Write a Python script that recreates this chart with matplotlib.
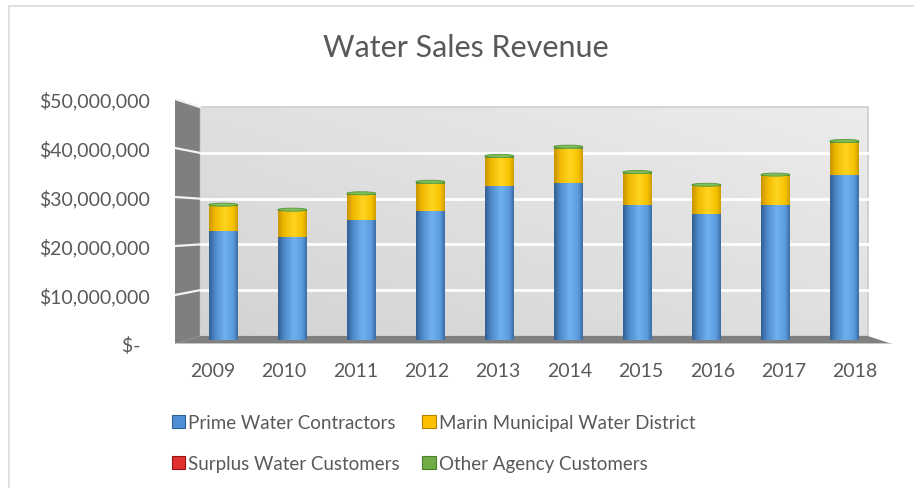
import numpy as np
import matplotlib
matplotlib.use('Agg')
from matplotlib import pyplot as plt
from matplotlib.colors import LinearSegmentedColormap
from matplotlib.patches import Polygon, Rectangle, Ellipse

plt.rcParams['font.family'] = ['Lato', 'DejaVu Sans']

years = ['2009', '2010', '2011', '2012', '2013', '2014', '2015', '2016', '2017', '2018']
# revenue in dollars
prime = [23.0e6, 21.7e6, 25.4e6, 27.3e6, 32.6e6, 33.2e6, 28.4e6, 26.6e6, 28.4e6, 34.9e6]
marin = [5.2e6, 5.5e6, 5.2e6, 5.7e6, 5.9e6, 7.2e6, 6.7e6, 5.8e6, 6.2e6, 6.7e6]
surplus = [0, 0, 0, 0, 0, 0, 0, 0, 0, 0]
other = [0.35e6, 0.3e6, 0.35e6, 0.4e6, 0.35e6, 0.4e6, 0.35e6, 0.35e6, 0.3e6, 0.4e6]

series = ['Prime Water Contractors', 'Marin Municipal Water District',
          'Surplus Water Customers', 'Other Agency Customers']
y_ticks = [0, 10e6, 20e6, 30e6, 40e6, 50e6]

TEXT = '#595959'
BAR_W = 0.42

# fake 3d box: back wall sits a bit higher/narrower, front edge a bit lower/wider
DEPTH_OFF = 0.846e6
BACK_X = (-0.34, 9.34)
FRONT_X = (-0.70, 9.69)


def wall_y(v, d):
    # d = +1 back wall, -1 front edge
    return d * DEPTH_OFF + v * (1 - d * 0.034)


def money(v):
    if v == 0:
        return '$-  '
    return '${:,.0f}'.format(v)


def shade(ax, patches, cmap, z):
    grad = np.linspace(0, 1, 64).reshape(1, -1)
    for p in patches:
        h = p.get_height()
        if h <= 0:
            continue
        x, y, w = p.get_x(), p.get_y(), p.get_width()
        ax.imshow(grad, cmap=cmap, extent=(x, x + w, y, y + h), aspect='auto',
                  interpolation='bicubic', zorder=z)


blue_cm = LinearSegmentedColormap.from_list('b', [(0, '#335f92'), (0.2, '#4d89c9'), (0.55, '#6fb2ef'),
                                                  (0.85, '#5a9ade'), (1, '#3b6ca3')])
gold_cm = LinearSegmentedColormap.from_list('y', [(0, '#c99500'), (0.2, '#efb800'), (0.55, '#ffd421'),
                                                  (0.85, '#f6c200'), (1, '#cf9c00')])
green_cm = LinearSegmentedColormap.from_list('g', [(0, '#4d8a2d'), (0.25, '#6fac46'), (0.55, '#8fcf66'),
                                                   (0.85, '#70ad47'), (1, '#538f33')])

fig = plt.figure(figsize=(9.14, 4.89), dpi=100)
fig.patch.set_facecolor('white')
fig.patches.append(Rectangle((9 / 914, -0.1), 2, 1 - 7 / 489 + 0.1, transform=fig.transFigure,
                             fill=False, edgecolor='#d9d9d9', lw=1.2))

ax = fig.add_axes([175 / 914, (489 - 345) / 489, 717 / 914, 245 / 489])
ax.set_facecolor('none')
x = np.arange(len(years))

# back wall
top = 50e6
bw = np.add.outer(np.linspace(1, 0, 50), np.linspace(0, 1, 100)) / 2
ax.imshow(bw, cmap=LinearSegmentedColormap.from_list('w', ['#d3d3d3', '#ececec']),
          extent=(BACK_X[0], BACK_X[1], wall_y(0, 1), wall_y(top, 1)), aspect='auto',
          interpolation='bicubic', zorder=0)
ax.add_patch(Rectangle((BACK_X[0], wall_y(0, 1)), BACK_X[1] - BACK_X[0], wall_y(top, 1) - wall_y(0, 1),
                       fill=False, edgecolor='#cfcfcf', lw=1.2, zorder=1))
for v in y_ticks[1:-1]:
    ax.plot([BACK_X[0], BACK_X[1] + 0.05], [wall_y(v, 1)] * 2, color='white', lw=2, zorder=1)

# side wall
ax.add_patch(Polygon([(FRONT_X[0], wall_y(0, -1)), (FRONT_X[0], wall_y(top, -1)),
                      (BACK_X[0], wall_y(top, 1)), (BACK_X[0], wall_y(0, 1))],
                     closed=True, facecolor='#7f7f7f', edgecolor='none', zorder=1))
for v in y_ticks[1:]:
    ax.plot([FRONT_X[0], BACK_X[0]], [wall_y(v, -1), wall_y(v, 1)], color='#f2f2f2', lw=1.6, zorder=1)

# floor
ax.add_patch(Polygon([(BACK_X[0], wall_y(0, 1)), (BACK_X[1], wall_y(0, 1)),
                      (FRONT_X[1], wall_y(0, -1)), (FRONT_X[0], wall_y(0, -1))],
                     closed=True, facecolor='#808080', edgecolor='none', zorder=1))
ax.plot([FRONT_X[0], FRONT_X[1]], [wall_y(0, -1)] * 2, color='#cdcdcd', lw=2, zorder=1,
        solid_capstyle='butt')

# stacked cylinders
b1 = np.array(prime)
b2 = b1 + np.array(marin)
b3 = b2 + np.array(surplus)
c1 = ax.bar(x, prime, BAR_W, color='#5b9bd5', zorder=2)
c2 = ax.bar(x, marin, BAR_W, bottom=b1, color='#ffc000', zorder=2)
c3 = ax.bar(x, surplus, BAR_W, bottom=b2, color='#c00000', zorder=2)
c4 = ax.bar(x, other, BAR_W, bottom=b3, color='#70ad47', zorder=2)
shade(ax, c1, blue_cm, 3)
shade(ax, c2, gold_cm, 3)
shade(ax, c4, green_cm, 3)
for p in c4:
    ax.add_patch(Ellipse((p.get_x() + BAR_W / 2, p.get_y() + p.get_height()), BAR_W, 0.65e6,
                         facecolor='#80bf58', edgecolor='#5a963a', lw=0.6, zorder=4))

ax.set_xlim(FRONT_X)
ax.set_ylim(wall_y(0, -1), wall_y(top, -1))
ax.set_yticks([wall_y(v, -1) for v in y_ticks])
ax.set_yticklabels([money(v) for v in y_ticks])
ax.set_xticks(4.5 + (x - 4.5) * 1.035)
ax.set_xticklabels(years)
ax.tick_params(length=0, labelsize=14, labelcolor=TEXT)
ax.tick_params(axis='y', pad=18)
ax.tick_params(axis='x', pad=13)
for s in ax.spines.values():
    s.set_visible(False)

fig.text(466 / 914, 1 - 57 / 489, 'Water Sales Revenue', ha='center', va='baseline',
         fontsize=22, color=TEXT)

handles = [Rectangle((0, 0), 1, 1, facecolor=c, edgecolor=e, lw=0.8)
           for c, e in [('#4f8fd6', '#2f5f95'), ('#ffc000', '#b08400'),
                        ('#e03030', '#9a1010'), ('#70ad47', '#4a7f2c')]]
# legend fills column by column, reference reads row by row
order = [0, 2, 1, 3]
leg = fig.legend([handles[i] for i in order], [series[i] for i in order], ncol=2, loc='upper left',
                 bbox_to_anchor=(172 / 914, 1 - 415 / 489), frameon=False, fontsize=13.5,
                 borderpad=0, borderaxespad=0, handlelength=0.7, handleheight=0.7,
                 handletextpad=0.17, columnspacing=1.2, labelspacing=1.3)
for t in leg.get_texts():
    t.set_color(TEXT)

fig.savefig('out.png', dpi=100)
